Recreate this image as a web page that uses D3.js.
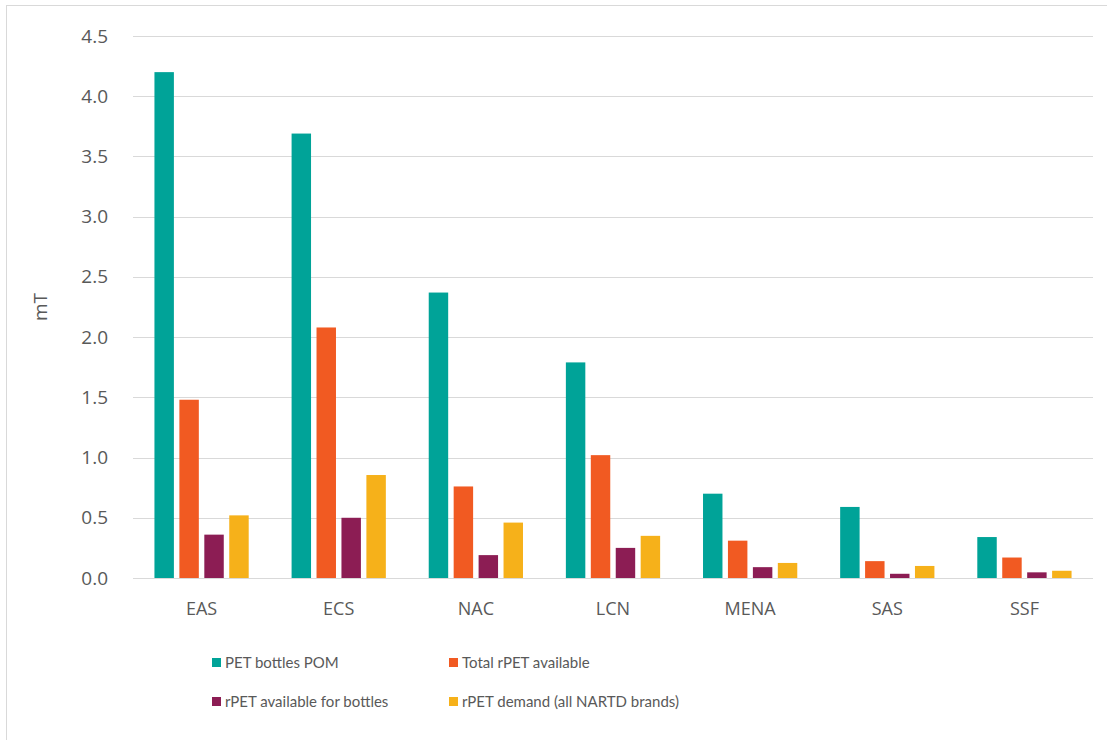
<!DOCTYPE html>
<html>
<head>
<meta charset="utf-8">
<script src="https://cdn.jsdelivr.net/npm/d3@7"></script>
<style>
  html, body { margin: 0; padding: 0; background: #fff; }
  svg { display: block; }
</style>
</head>
<body>
<svg id="chart" width="1107" height="740"></svg>
<script>
// Regions and series
const regions = ["EAS", "ECS", "NAC", "LCN", "MENA", "SAS", "SSF"];
const seriesNames = [
  "PET bottles POM",
  "Total rPET available",
  "rPET available for bottles",
  "rPET demand (all NARTD brands)"
];
const seriesColors = ["#00A398", "#F15A22", "#8C1D54", "#F6B11A"];

// Values in million tonnes, one array per series, ordered as regions
const petBottlesPOM      = [4.20, 3.69, 2.37, 1.79, 0.70, 0.59, 0.34];
const totalRpetAvailable = [1.48, 2.08, 0.76, 1.02, 0.31, 0.14, 0.17];
const rpetForBottles     = [0.36, 0.50, 0.19, 0.25, 0.09, 0.035, 0.047];
const rpetDemand         = [0.52, 0.855, 0.46, 0.35, 0.125, 0.10, 0.06];

const yTicks = [0, 0.5, 1.0, 1.5, 2.0, 2.5, 3.0, 3.5, 4.0, 4.5];

const seriesValues = [petBottlesPOM, totalRpetAvailable, rpetForBottles, rpetDemand];

const svg = d3.select("#chart");

// outer frame
svg.append("rect")
  .attr("x", 6.5).attr("y", 5.5)
  .attr("width", 1107).attr("height", 740)
  .attr("fill", "none").attr("stroke", "#d9d9d9");

const plot = { left: 133, right: 1093, top: 36, bottom: 578 };

const x0 = d3.scaleBand().domain(regions).range([plot.left, plot.right]).padding(0);
const x1 = d3.scaleBand().domain(d3.range(seriesNames.length))
  .range([0, x0.bandwidth()]).paddingInner(0.22).paddingOuter(0.86);
const y = d3.scaleLinear().domain([0, 4.5]).range([plot.bottom, plot.top]);

// gridlines
svg.append("g").selectAll("line").data(yTicks).join("line")
  .attr("x1", plot.left).attr("x2", plot.right)
  .attr("y1", d => Math.round(y(d)) + 0.5).attr("y2", d => Math.round(y(d)) + 0.5)
  .attr("stroke", "#d9d9d9").attr("stroke-width", 1);

// y axis labels
const yAxis = d3.axisLeft(y).tickValues(yTicks).tickFormat(d3.format(".1f")).tickSize(0).tickPadding(0);
const gy = svg.append("g").attr("transform", `translate(${plot.left - 25},0)`).call(yAxis);
gy.select(".domain").remove();
gy.selectAll("text")
  .attr("font-family", "'Open Sans', sans-serif").attr("font-size", 19).attr("fill", "#595959");

// y axis title
svg.append("text")
  .attr("transform", `translate(47,307) rotate(-90)`)
  .attr("text-anchor", "middle")
  .attr("font-family", "'Open Sans', sans-serif").attr("font-size", 19).attr("fill", "#595959")
  .text("mT");

// bars
const groups = svg.append("g").selectAll("g").data(regions).join("g")
  .attr("transform", d => `translate(${x0(d)},0)`);
groups.selectAll("rect")
  .data((r, i) => seriesValues.map((vals, s) => ({ s, v: vals[i] })))
  .join("rect")
  .attr("x", d => x1(d.s))
  .attr("width", x1.bandwidth())
  .attr("y", d => y(d.v))
  .attr("height", d => plot.bottom - y(d.v))
  .attr("fill", d => seriesColors[d.s]);

// x axis
const xAxis = d3.axisBottom(x0).tickSize(0).tickPadding(0);
const gx = svg.append("g").attr("transform", `translate(0,${plot.bottom + 37})`).call(xAxis);
gx.select(".domain").remove();
gx.selectAll("text")
  .attr("font-family", "'Open Sans', sans-serif").attr("font-size", 18).attr("fill", "#595959")
  .attr("dy", 0);

// legend
const legendPos = [[212, 663], [449, 663], [212, 702], [449, 702]];
const legend = svg.append("g").selectAll("g").data(seriesNames).join("g")
  .attr("transform", (d, i) => `translate(${legendPos[i][0]},${legendPos[i][1]})`);
legend.append("rect")
  .attr("x", 0).attr("y", -5).attr("width", 9).attr("height", 9)
  .attr("fill", (d, i) => seriesColors[i]);
legend.append("text")
  .attr("x", 13).attr("y", 0).attr("dy", "0.35em")
  .attr("font-family", "Lato, sans-serif").attr("font-size", 15).attr("fill", "#595959")
  .text(d => d);
</script>
</body>
</html>
